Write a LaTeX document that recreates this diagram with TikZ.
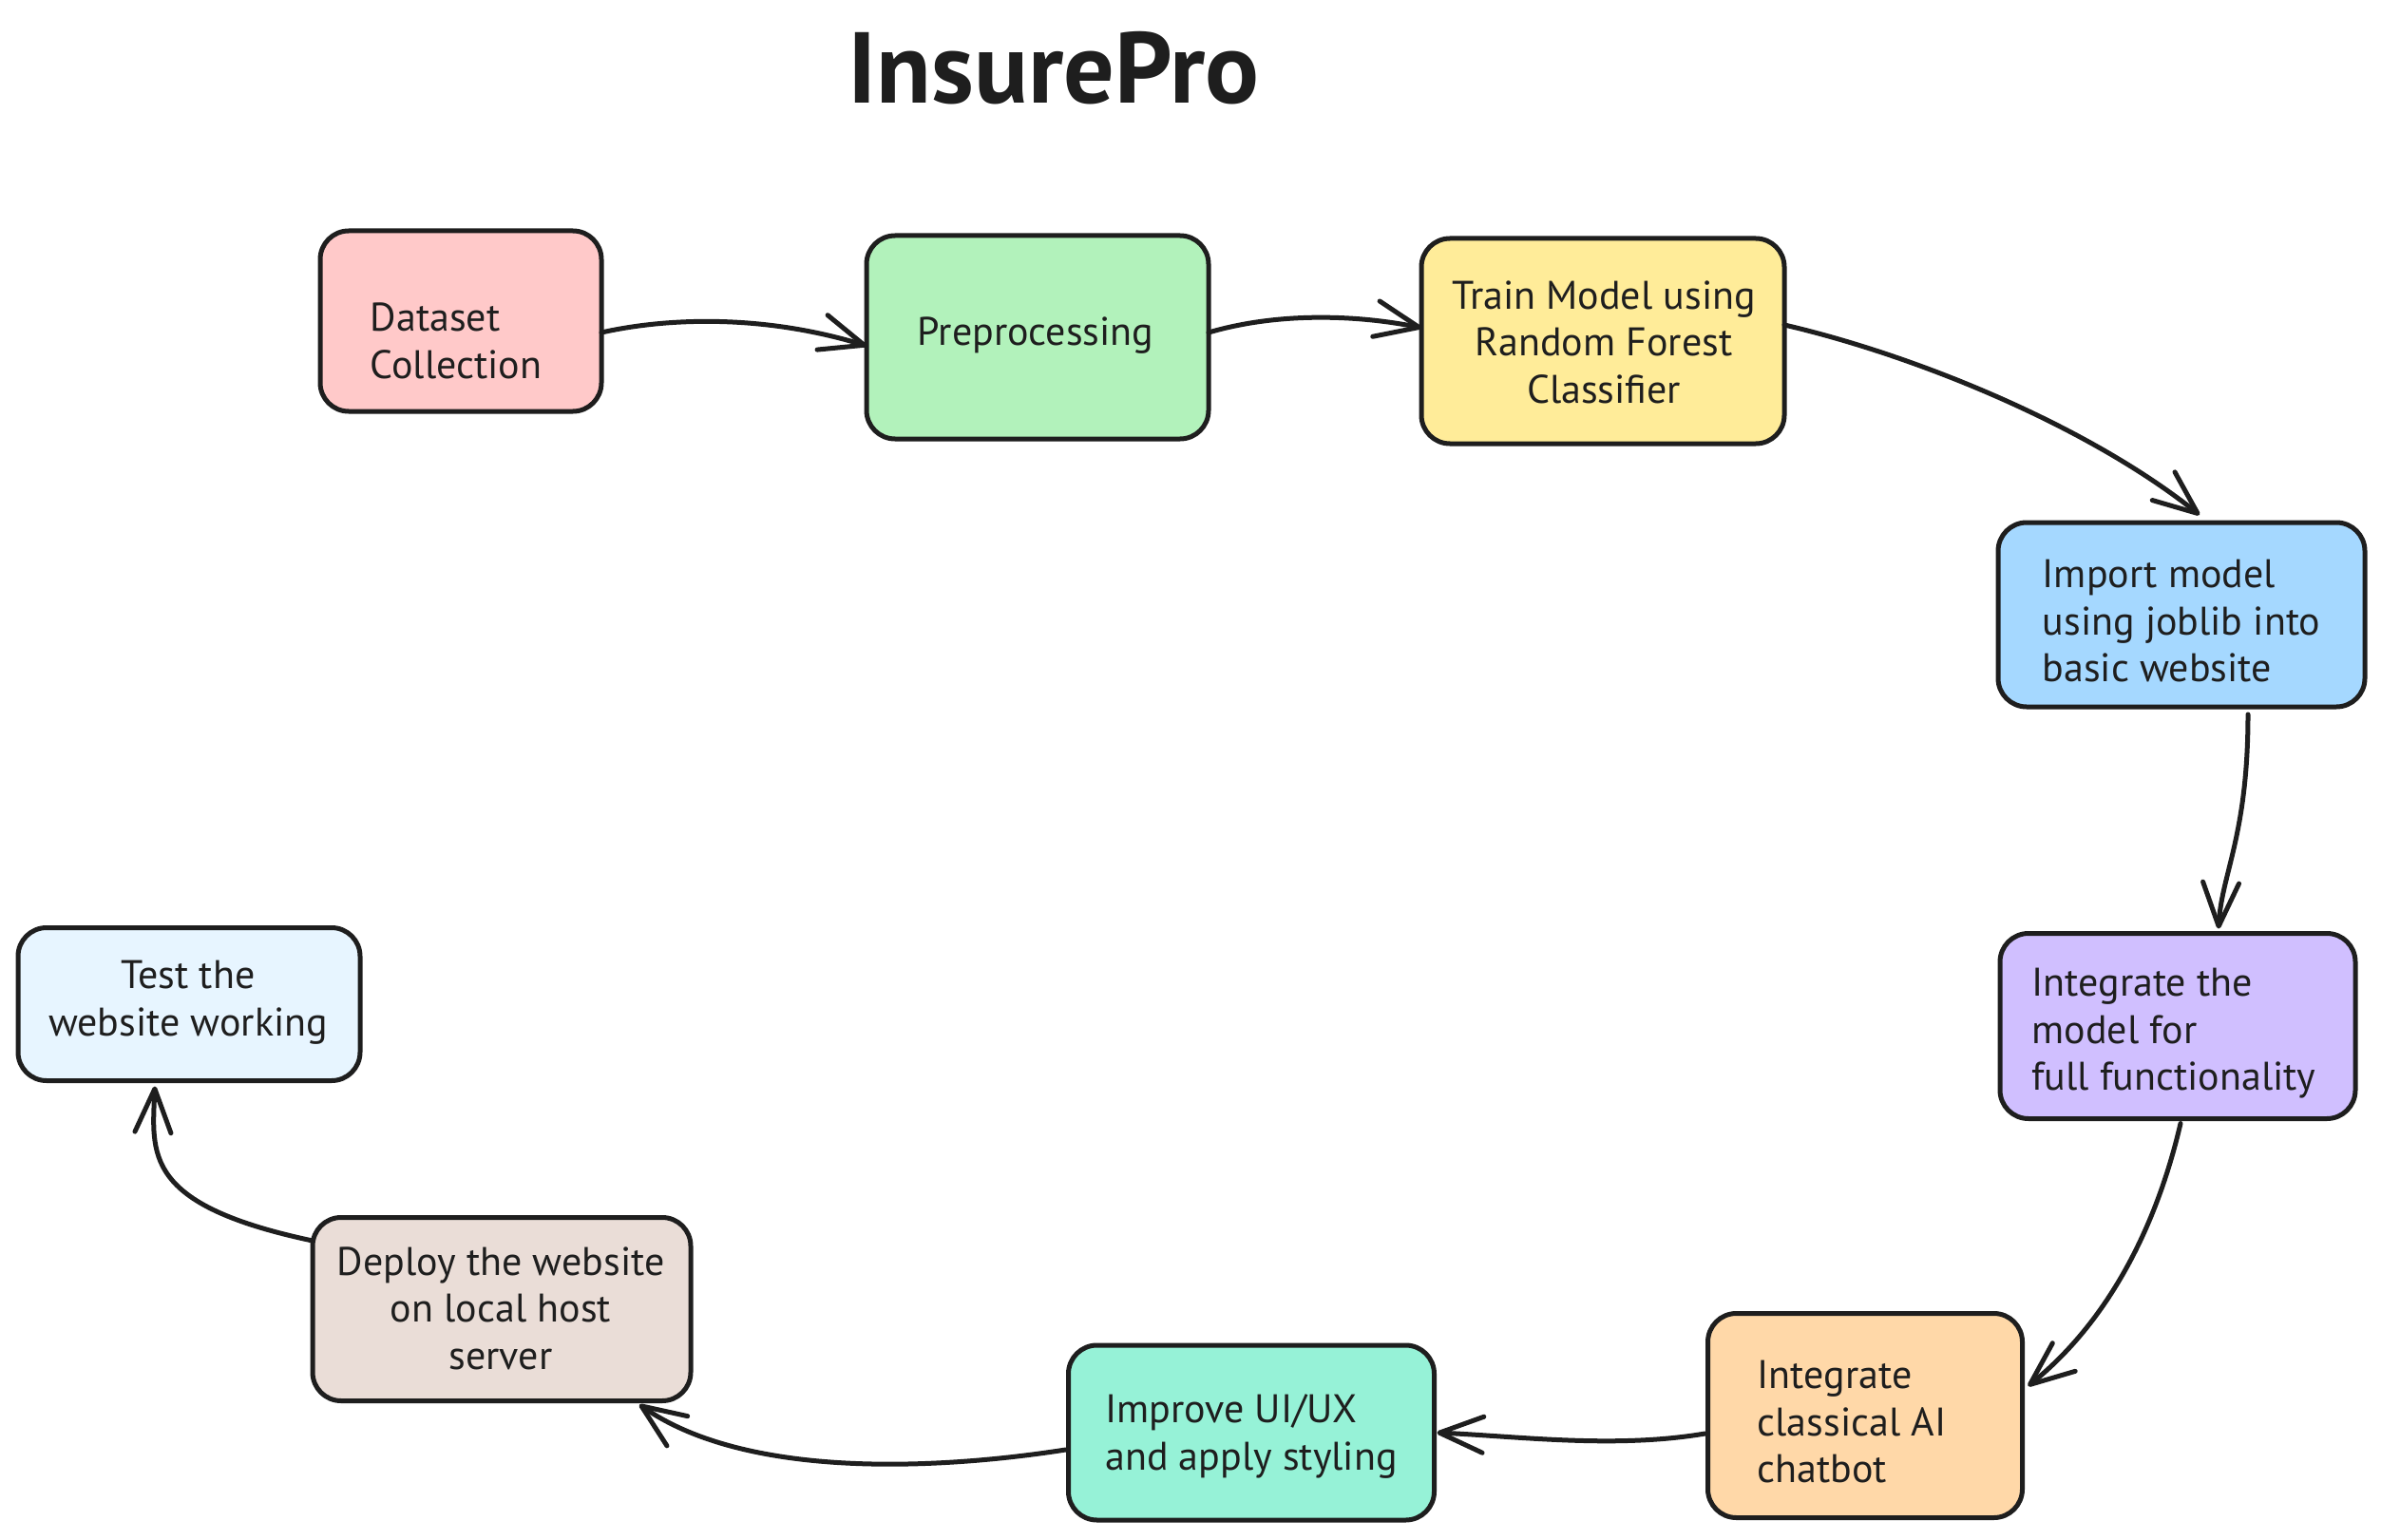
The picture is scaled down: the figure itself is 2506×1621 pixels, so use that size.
\documentclass[tikz,border=0pt]{standalone}
\usepackage{fontspec}
\setmainfont{PT Sans}
\usetikzlibrary{arrows.meta}
\definecolor{ink}{HTML}{1E1E1E}
\definecolor{cpink}{HTML}{FFC9C9}
\definecolor{cgreen}{HTML}{B2F2BB}
\definecolor{cyellow}{HTML}{FFEC99}
\definecolor{cblue}{HTML}{A5D8FF}
\definecolor{cpurple}{HTML}{D0BFFF}
\definecolor{corange}{HTML}{FFD8A8}
\definecolor{cteal}{HTML}{96F2D7}
\definecolor{cbrown}{HTML}{EADDD7}
\definecolor{clight}{HTML}{E7F5FF}
\tikzset{
  box/.style={draw=ink, line width=5pt, rounded corners=30pt, inner sep=0pt, outer sep=0pt},
  lbl/.style={text=ink, inner sep=0pt, font=\fontsize{42}{49.5}\selectfont},
  ttl/.style={text=ink, inner sep=0pt, font=\fontsize{106}{116}\selectfont\bfseries},
  flow/.style={draw=ink, line width=5pt, line cap=round,
    -{Straight Barb[length=46pt,width=38pt,round]}}
}
\begin{document}
\begin{tikzpicture}[x=1pt,y=-1pt]
\useasboundingbox[fill=white] (0,0) rectangle (2506,1621);

\node[ttl, anchor=base] (title) at (1109,109) {InsurePro};

\node[box, fill=cpink,   minimum width=296pt, minimum height=190pt] (b1) at (485,338) {};
\node[box, fill=cgreen,  minimum width=360pt, minimum height=214pt] (b2) at (1092,355) {};
\node[box, fill=cyellow, minimum width=382pt, minimum height=216pt] (b3) at (1687,359) {};
\node[box, fill=cblue,   minimum width=386pt, minimum height=194pt] (b4) at (2296,647) {};
\node[box, fill=cpurple, minimum width=374pt, minimum height=195pt] (b5) at (2292,1080) {};
\node[box, fill=corange, minimum width=331pt, minimum height=215pt] (b6) at (1963,1490) {};
\node[box, fill=cteal,   minimum width=385pt, minimum height=184pt] (b7) at (1317,1508) {};
\node[box, fill=cbrown,  minimum width=398pt, minimum height=193pt] (b8) at (528,1378) {};
\node[box, fill=clight,  minimum width=360pt, minimum height=161pt] (b9) at (199,1057) {};

\node[lbl, align=left]   (t1) at (480,359)  {Dataset\\Collection};
\node[lbl, align=center] (t2) at (1090,353) {Preprocessing};
\node[lbl, align=center] (t3) at (1688,360) {Train Model using\\Random Forest\\Classifier};
\node[lbl, align=left]   (t4) at (2296,654) {Import model\\using joblib into\\basic website};
\node[lbl, align=left]   (t5) at (2288,1088) {Integrate the\\model for\\full functionality};
\node[lbl, align=left]   (t6) at (1949,1497) {Integrate\\classical AI\\chatbot};
\node[lbl, align=left]   (t7) at (1317,1512) {Improve UI/UX\\and apply styling};
\node[lbl, align=center] (t8) at (527,1377)  {Deploy the website\\on local host\\server};
\node[lbl, align=center] (t9) at (198,1055)  {Test the\\website working};

\draw[flow] ([yshift=-12pt]b1.east) .. controls (700,335) and (800,330) .. ([yshift=-9pt]b2.west);
\draw[flow] ([yshift=5pt]b2.east) .. controls (1340,330) and (1420,330) .. ([yshift=14pt]b3.west);
\draw[flow] ([yshift=17pt]b3.east) .. controls (2020,375) and (2200,450) .. ([xshift=19pt,yshift=8pt]b4.north);
\draw[flow] ([xshift=70pt,yshift=-8pt]b4.south) .. controls (2366,880) and (2338,920) .. ([xshift=43pt,yshift=5pt]b5.north);
\draw[flow] ([xshift=3pt,yshift=-5pt]b5.south) .. controls (2270,1290) and (2220,1390) .. ([xshift=6pt,yshift=31pt]b6.east);
\draw[flow] ([xshift=-3pt,yshift=-19pt]b6.west) .. controls (1700,1525) and (1600,1512) .. ([xshift=3pt]b7.east);
\draw[flow] ([xshift=-3pt,yshift=-18pt]b7.west) .. controls (1000,1545) and (790,1560) .. ([xshift=145pt,yshift=-4pt]b8.south);
\draw[flow] ([yshift=72pt]b8.west) .. controls (150,1268) and (160,1215) .. ([xshift=-36pt,yshift=-6pt]b9.south);
\end{tikzpicture}
\end{document}
